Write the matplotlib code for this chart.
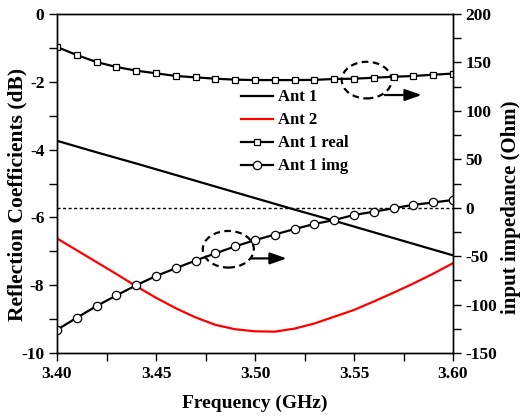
import numpy as np
import matplotlib
matplotlib.use("Agg")
import matplotlib.pyplot as plt
from matplotlib.patches import Ellipse
from matplotlib.ticker import MultipleLocator, FormatStrFormatter

plt.rcParams['font.family'] = ['Liberation Serif', 'DejaVu Serif']
plt.rcParams['font.weight'] = 'bold'
plt.rcParams['axes.unicode_minus'] = False

# Frequency points (GHz)
freq = [3.40, 3.41, 3.42, 3.43, 3.44, 3.45, 3.46, 3.47, 3.48, 3.49, 3.50,
        3.51, 3.52, 3.53, 3.54, 3.55, 3.56, 3.57, 3.58, 3.59, 3.60]

# Reflection coefficients (dB)
ant1_freq = [3.40, 3.42, 3.44, 3.46, 3.48, 3.50, 3.52, 3.54, 3.56, 3.58, 3.60]
ant1_db = [-3.74, -4.08, -4.41, -4.75, -5.09, -5.43, -5.77, -6.10, -6.44, -6.78, -7.12]
ant2_db = [-6.62, -6.97, -7.32, -7.67, -8.03, -8.37, -8.68, -8.95, -9.17, -9.30, -9.36,
           -9.37, -9.28, -9.13, -8.93, -8.73, -8.48, -8.22, -7.95, -7.66, -7.35]

# Input impedance of Ant 1 (Ohm)
ant1_real = [166, 157.6, 150.4, 145.3, 141.5, 138.8, 136.0, 134.6, 133.2, 132.2, 131.8,
             131.8, 131.8, 132.0, 132.9, 133.2, 134.2, 135.2, 136.0, 137.3, 138.5]
ant1_img = [-126, -113.6, -101.5, -90.5, -80.1, -70.5, -62.5, -54.5, -47.1, -39.9, -33.5,
            -27.7, -22.0, -16.8, -12.7, -7.5, -4.1, -0.5, 3.0, 5.4, 8.0]

fig = plt.figure(figsize=(5.25, 4.18), dpi=100)
ax = fig.add_axes([57/525, 65/418, 396/525, 339/418])
ax2 = ax.twinx()

l1, = ax.plot(ant1_freq, ant1_db, color='black', lw=1.6, label='Ant 1')
l2, = ax.plot(freq, ant2_db, color='red', lw=1.6, label='Ant 2')

ax2.axhline(0, color='black', lw=1.0, ls=(0, (2.2, 1.8)))
l3, = ax2.plot(freq, ant1_real, color='black', lw=1.6, marker='s', ms=5,
               mfc='white', mec='black', mew=0.9, label='Ant 1 real')
l4, = ax2.plot(freq, ant1_img, color='black', lw=1.6, marker='o', ms=6,
               mfc='white', mec='black', mew=0.9, label='Ant 1 img')

ax.set_xlim(3.40, 3.60)
ax.set_ylim(-10, 0)
ax2.set_ylim(-150, 200)

ax.xaxis.set_major_locator(MultipleLocator(0.05))
ax.xaxis.set_minor_locator(MultipleLocator(0.025))
ax.yaxis.set_major_locator(MultipleLocator(2))
ax.yaxis.set_minor_locator(MultipleLocator(1))
ax2.yaxis.set_major_locator(MultipleLocator(50))
ax2.yaxis.set_minor_locator(MultipleLocator(25))
ax.xaxis.set_major_formatter(FormatStrFormatter('%.2f'))

for a in (ax, ax2):
    for s in a.spines.values():
        s.set_linewidth(1.0)
ax.tick_params(axis='both', which='both', direction='out', length=6, width=1.0,
               labelsize=12.5, pad=3)
ax2.tick_params(axis='y', which='both', direction='out', length=6, width=1.0,
                labelsize=12.5, pad=3)

ax.set_xlabel('Frequency (GHz)', fontsize=14, fontweight='bold')
ax.xaxis.set_label_coords(0.5, -0.124)
ax.set_ylabel('Reflection Coefficients (dB)', fontsize=15.5, fontweight='bold')
ax.yaxis.set_label_coords(-0.074, 0.469)
ax2.set_ylabel('input impedance (Ohm)', fontsize=15, fontweight='bold')
ax2.yaxis.set_label_coords(1.122, 0.43)

leg = ax2.legend(handles=[l1, l2, l3, l4], loc='center',
                 bbox_to_anchor=(0.60, 0.652), frameon=False, fontsize=12,
                 handlelength=1.9, handletextpad=0.3, labelspacing=0.42)

# dashed ellipses with arrows
e1 = Ellipse((0.782, 0.805), 0.126, 0.108, transform=ax.transAxes, fill=False,
             ls=(0, (3, 2)), lw=1.6, ec='black')
e2 = Ellipse((0.4326, 0.306), 0.129, 0.108, transform=ax.transAxes, fill=False,
             ls=(0, (3, 2)), lw=1.6, ec='black')
ax2.add_patch(e1)
ax2.add_patch(e2)
arrow_style = '-|>,head_length=1.0,head_width=0.35'
ax2.annotate('', xy=(0.921, 0.761), xytext=(0.828, 0.761), xycoords='axes fraction',
             arrowprops=dict(arrowstyle=arrow_style, color='black', lw=1.6,
                             shrinkA=0, shrinkB=0))
ax2.annotate('', xy=(0.580, 0.279), xytext=(0.492, 0.279), xycoords='axes fraction',
             arrowprops=dict(arrowstyle=arrow_style, color='black', lw=1.6,
                             shrinkA=0, shrinkB=0))

fig.savefig('out.png', dpi=100)
